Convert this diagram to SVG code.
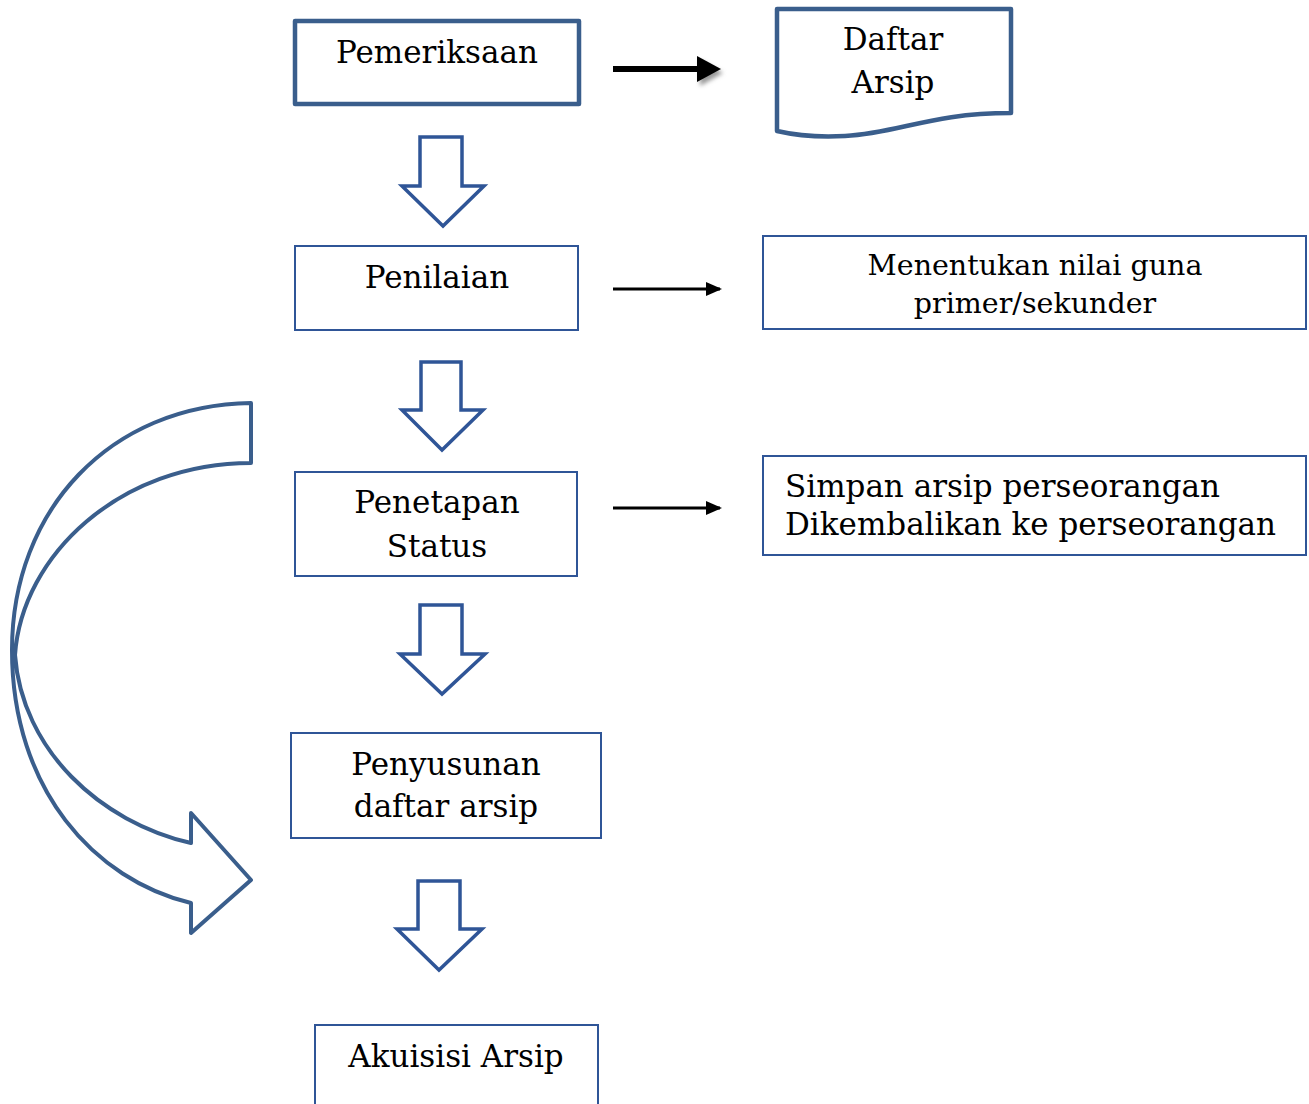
<svg xmlns="http://www.w3.org/2000/svg" width="1309" height="1104" viewBox="0 0 1309 1104">
<style>
text{font-family:"DejaVu Serif","Liberation Serif",serif;font-size:31px;fill:#000;text-anchor:middle}
.thick{fill:#fff;stroke:#3A5E8C;stroke-width:4.5;stroke-linejoin:round}
.thin{fill:#fff;stroke:#2F5597;stroke-width:2}
.blk{fill:#fff;stroke:#2F5597;stroke-width:3.5}
.conn{stroke:#000;stroke-width:3;fill:none}
</style>
<defs>
<marker id="ah" markerWidth="16" markerHeight="14" refX="14" refY="7" orient="auto" markerUnits="userSpaceOnUse" viewBox="0 0 16 14">
<path d="M0,0 L16,7 L0,14 Z" fill="#000"/>
</marker>
<filter id="sh" x="-20%" y="-100%" width="140%" height="300%">
<feGaussianBlur stdDeviation="2"/>
</filter>
</defs>

<g id="connectors">
<g id="arrow-pemeriksaan-daftar">
<line x1="615" y1="73" x2="718" y2="73" stroke="#888" stroke-width="6" filter="url(#sh)"/>
<path d="M700,60 L723,73 L700,86 Z" fill="#999" filter="url(#sh)"/>
<line x1="613" y1="69" x2="702" y2="69" stroke="#000" stroke-width="6"/>
<path d="M697,56 L721,69 L697,82 Z" fill="#000"/>
</g>
<line class="conn" x1="613" y1="289" x2="720" y2="289" marker-end="url(#ah)"/>
<line class="conn" x1="613" y1="508" x2="720" y2="508" marker-end="url(#ah)"/>
<path class="blk" d="M420,137 L462,137 L462,186 L484,186 L443,226 L402,186 L420,186 Z"/>
<path class="blk" d="M421,362 L461,362 L461,410 L483,410 L442,450 L402,410 L421,410 Z"/>
<path class="blk" d="M420,605 L462,605 L462,654 L485,654 L442,694 L400,654 L420,654 Z"/>
<path class="blk" d="M418,881 L460,881 L460,929 L482,929 L439,970 L397,929 L418,929 Z"/>
<path id="curved-arrow" fill="none" stroke="#3A5E8C" stroke-width="4" stroke-linejoin="round" d="M251,403 L251,463 C120,463 22,555 15,655 C22,750 100,822 191,843 L191,813 L251,880 L191,933 L191,903 C95,880 12,790 12,650 C12,510 110,405 251,403 Z"/>
</g>

<g id="node-pemeriksaan">
<rect class="thick" x="295" y="21" width="284" height="83"/>
<text x="437" y="63">Pemeriksaan</text>
</g>
<g id="node-daftar-arsip">
<path class="thick" d="M777,9 L1011,9 L1011,113 C930,113 900,133 845,136 C810,138 790,134 777,131 Z"/>
<text x="893" y="50">Daftar</text>
<text x="893" y="93">Arsip</text>
</g>
<g id="node-penilaian">
<rect class="thin" x="295" y="246" width="283" height="84"/>
<text x="437" y="288">Penilaian</text>
</g>
<g id="node-menentukan">
<rect class="thin" x="763" y="236" width="543" height="93"/>
<text x="1035" y="275" style="font-size:28.5px">Menentukan nilai guna</text>
<text x="1035" y="313" style="font-size:28.5px">primer/sekunder</text>
</g>
<g id="node-penetapan">
<rect class="thin" x="295" y="472" width="282" height="104"/>
<text x="437" y="513">Penetapan</text>
<text x="437" y="557">Status</text>
</g>
<g id="node-simpan">
<rect class="thin" x="763" y="456" width="543" height="99"/>
<text x="785" y="497" style="text-anchor:start">Simpan arsip perseorangan</text>
<text x="785" y="535" style="text-anchor:start">Dikembalikan ke perseorangan</text>
</g>
<g id="node-penyusunan">
<rect class="thin" x="291" y="733" width="310" height="105"/>
<text x="446" y="775">Penyusunan</text>
<text x="446" y="817">daftar arsip</text>
</g>
<g id="node-akuisisi">
<rect class="thin" x="315" y="1025" width="283" height="90"/>
<text x="456" y="1067">Akuisisi Arsip</text>
</g>
</svg>
